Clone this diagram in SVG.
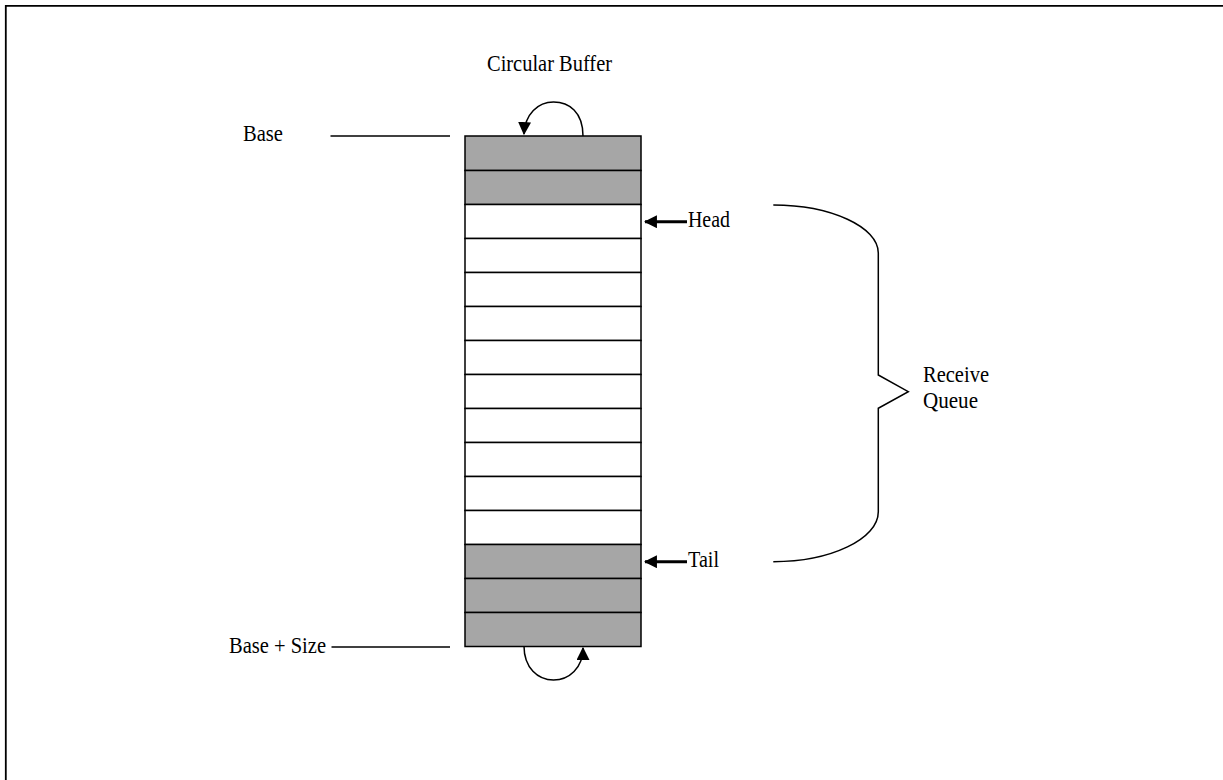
<svg xmlns="http://www.w3.org/2000/svg" width="1223" height="780" viewBox="0 0 1223 780">
<defs>
<style>
.t{font-family:"Liberation Serif","Times New Roman",serif;font-size:23px;fill:#000}
.ln{stroke:#000;stroke-width:1.5;fill:none}
.g{fill:#a6a6a6;stroke:#000;stroke-width:1.5}
.w{fill:#fff;stroke:#000;stroke-width:1.5}
.thick{stroke:#000;stroke-width:3;fill:none}
</style>
<marker id="ah" viewBox="0 0 12 12" refX="11" refY="6" markerWidth="13" markerHeight="13" markerUnits="userSpaceOnUse" orient="auto">
<path d="M0,0 L12,6 L0,12 Z" fill="#000"/>
</marker>
</defs>
<rect width="1223" height="780" fill="#fff"/>
<path d="M5.8,780 V5.8 H1223" stroke="#000" stroke-width="1.8" fill="none"/>
<g id="buffer">
<rect class="g" x="465" y="136" width="176" height="34.5"/>
<rect class="g" x="465" y="170.5" width="176" height="34"/>
<rect class="w" x="465" y="204.5" width="176" height="34"/>
<rect class="w" x="465" y="238.5" width="176" height="34"/>
<rect class="w" x="465" y="272.5" width="176" height="34"/>
<rect class="w" x="465" y="306.5" width="176" height="34"/>
<rect class="w" x="465" y="340.5" width="176" height="34"/>
<rect class="w" x="465" y="374.5" width="176" height="34"/>
<rect class="w" x="465" y="408.5" width="176" height="34"/>
<rect class="w" x="465" y="442.5" width="176" height="34"/>
<rect class="w" x="465" y="476.5" width="176" height="34"/>
<rect class="w" x="465" y="510.5" width="176" height="34"/>
<rect class="g" x="465" y="544.5" width="176" height="34"/>
<rect class="g" x="465" y="578.5" width="176" height="34"/>
<rect class="g" x="465" y="612.5" width="176" height="34"/>
</g>
<g id="title"><text class="t" x="487" y="71" textLength="125" lengthAdjust="spacingAndGlyphs">Circular Buffer</text></g>
<g id="base"><text class="t" x="243" y="141" textLength="40" lengthAdjust="spacingAndGlyphs">Base</text></g>
<g id="basesize"><text class="t" x="229" y="653" textLength="97" lengthAdjust="spacingAndGlyphs">Base + Size</text></g>
<g id="head"><text class="t" x="688" y="227" textLength="42" lengthAdjust="spacingAndGlyphs">Head</text></g>
<g id="tail"><text class="t" x="688" y="567" textLength="31" lengthAdjust="spacingAndGlyphs">Tail</text></g>
<g id="queue"><text class="t" x="923" y="382" textLength="66" lengthAdjust="spacingAndGlyphs">Receive</text><text class="t" x="923" y="408" textLength="55" lengthAdjust="spacingAndGlyphs">Queue</text></g>
<g id="connectors">
<line class="ln" x1="330.5" y1="136" x2="450" y2="136"/>
<line class="ln" x1="331.5" y1="647" x2="450" y2="647"/>
<path class="ln" d="M583,136 C583,112 569,102 553.5,102 C538,102 525,114 524,134" marker-end="url(#ah)"/>
<path class="ln" d="M524,646 C524,668 538,680 553.5,680 C569,680 583,668 583,648" marker-end="url(#ah)"/>
<line class="thick" x1="687" y1="221.7" x2="645" y2="221.7" marker-end="url(#ah)"/>
<line class="thick" x1="687" y1="561.7" x2="645" y2="561.7" marker-end="url(#ah)"/>
<path class="ln" d="M773.3,205 C831,205 878.3,227 878.3,253 V375 L908.3,391.7 L878.3,408.3 V511.7 C878.3,539 831,561.7 773.3,561.7"/>
</g>
</svg>
